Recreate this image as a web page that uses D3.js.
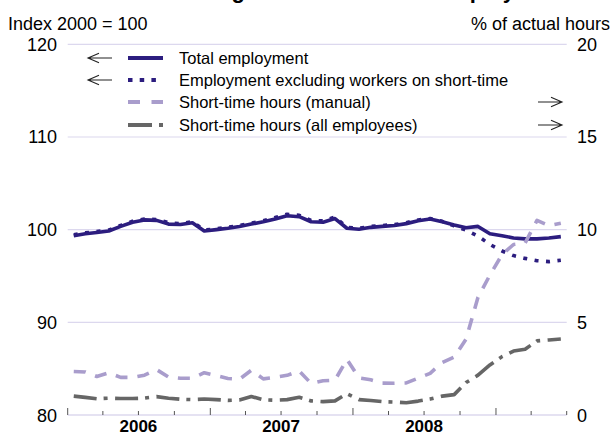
<!DOCTYPE html>
<html>
<head>
<meta charset="utf-8">
<script src="https://cdn.jsdelivr.net/npm/d3@7"></script>
<style>
  html, body { margin: 0; padding: 0; background: #fff; }
  svg { display: block; font-family: "Liberation Sans", Arial, Helvetica, sans-serif; }
</style>
</head>
<body>
<svg id="chart" width="612" height="435"></svg>
<script>
// Monthly observations, January 2006 – June 2009
const months = d3.timeMonth.range(new Date(2006, 0, 1), new Date(2009, 6, 1));

// Left axis (index 2000 = 100)
const totalEmployment = [99.35, 99.55, 99.7, 99.85, 100.35, 100.8, 101.05, 101.0, 100.6, 100.55,
  100.75, 99.85, 100.0, 100.15, 100.35, 100.6, 100.85, 101.15, 101.5, 101.4,
  100.85, 100.8, 101.2, 100.15, 100.05, 100.25, 100.35, 100.45, 100.65, 100.95,
  101.15, 100.85, 100.5, 100.2, 100.35, 99.55, 99.35, 99.1, 99.0, 99.0, 99.1, 99.25];
const employmentExShortTime = [99.45, 99.65, 99.8, 99.95, 100.45, 100.9, 101.15, 101.1, 100.75, 100.65,
  100.85, 99.95, 100.1, 100.25, 100.45, 100.7, 100.95, 101.3, 101.65, 101.55,
  101.0, 100.95, 101.35, 100.25, 100.15, 100.35, 100.45, 100.55, 100.75, 101.05,
  101.2, 100.9, 100.4, 99.95, 99.3, 98.4, 97.7, 97.2, 96.9, 96.65, 96.55, 96.7];

// Right axis (% of actual hours)
const shortTimeManual = [2.35, 2.32, 2.08, 2.28, 2.03, 2.03, 2.15, 2.45, 2.05, 1.98,
  1.98, 2.28, 2.12, 1.97, 1.93, 2.42, 1.95, 2.03, 2.14, 2.38,
  1.7, 1.85, 1.88, 3.0, 2.0, 1.9, 1.72, 1.71, 1.73, 1.99,
  2.25, 2.83, 3.12, 4.1, 6.35, 7.55, 8.65, 9.2, 9.28, 10.5, 10.22, 10.35];
const shortTimeAll = [1.02, 0.95, 0.88, 0.91, 0.89, 0.89, 0.91, 0.99, 0.9, 0.85,
  0.83, 0.86, 0.83, 0.79, 0.81, 1.0, 0.82, 0.8, 0.83, 0.96,
  0.76, 0.72, 0.76, 1.15, 0.83, 0.78, 0.72, 0.7, 0.66, 0.75,
  0.86, 1.02, 1.1, 1.75, 2.15, 2.7, 3.15, 3.45, 3.55, 4.0, 4.05, 4.1];

const leftTicks = [80, 90, 100, 110, 120];
const rightTicks = [0, 5, 10, 15, 20];
const yearLabels = ["2006", "2007", "2008"];

const legendItems = [
  { label: "Total employment", side: "left" },
  { label: "Employment excluding workers on short-time", side: "left" },
  { label: "Short-time hours (manual)", side: "right" },
  { label: "Short-time hours (all employees)", side: "right" }
];

const title = "Short-time working and total German employment";
const leftUnit = "Index 2000 = 100";
const rightUnit = "% of actual hours";

// ---- layout & styles ----
const plot = { left: 67.7, right: 566.7, top: 44.3, bottom: 415 };
const navy = "#2c1d7f", lilac = "#a99dcc", grey = "#666666", grid = "#dcd8ee";
const styles = [
  { stroke: navy, dash: null, width: 3.6 },
  { stroke: navy, dash: "4,7.5", width: 3.6 },
  { stroke: lilac, dash: "12,10", width: 3.6 },
  { stroke: grey, dash: "23,7,4,7.5", width: 3.6 }
];

const svg = d3.select("#chart");

const x = d3.scaleTime()
  .domain([new Date(2006, 0, 1), new Date(2009, 6, 1)])
  .range([plot.left, plot.right]);
const yL = d3.scaleLinear().domain([80, 120]).range([plot.bottom, plot.top]);
const yR = d3.scaleLinear().domain([0, 20]).range([plot.bottom, plot.top]);

// mid-month position for each observation
const mid = d => new Date((+d + +d3.timeMonth.offset(d, 1)) / 2);

// title (extends above the visible area)
svg.append("text")
  .attr("x", 306).attr("y", -2)
  .attr("text-anchor", "middle")
  .attr("font-size", 22).attr("font-weight", "bold")
  .text(title);

svg.append("text").attr("x", 8).attr("y", 30)
  .attr("font-size", 18).text(leftUnit);
svg.append("text").attr("x", 610).attr("y", 30)
  .attr("text-anchor", "end").attr("font-size", 18).text(rightUnit);

// gridlines
svg.append("g").selectAll("line")
  .data(leftTicks.filter(t => t > 80))
  .join("line")
  .attr("x1", plot.left).attr("x2", plot.right)
  .attr("y1", d => yL(d)).attr("y2", d => yL(d))
  .attr("stroke", grid).attr("stroke-width", 1.2);

// left axis labels
svg.append("g").selectAll("text")
  .data(leftTicks).join("text")
  .attr("x", 57).attr("y", d => yL(d) + 6.5)
  .attr("text-anchor", "end").attr("font-size", 18)
  .text(d => d);

// right axis labels
svg.append("g").selectAll("text")
  .data(rightTicks).join("text")
  .attr("x", 577).attr("y", d => yR(d) + 6.5)
  .attr("font-size", 18)
  .text(d => d);

// bottom axis: quarterly ticks, longer at year boundaries
const xAxis = svg.append("g");
xAxis.append("line")
  .attr("x1", plot.left).attr("x2", plot.right)
  .attr("y1", plot.bottom).attr("y2", plot.bottom)
  .attr("stroke", grid).attr("stroke-width", 1.4);
const quarters = d3.timeMonth.every(3).range(new Date(2006, 0, 1), new Date(2009, 7, 1));
xAxis.selectAll("line.tick")
  .data(quarters).join("line")
  .attr("class", "tick")
  .attr("x1", d => x(d)).attr("x2", d => x(d))
  .attr("y1", plot.bottom)
  .attr("y2", d => plot.bottom - (d.getMonth() === 0 ? 7 : 4))
  .attr("stroke", "#555").attr("stroke-width", 1);
xAxis.selectAll("text")
  .data(yearLabels).join("text")
  .attr("x", d => x(new Date(+d, 6, 1)))
  .attr("y", 432)
  .attr("text-anchor", "middle")
  .attr("font-size", 17).attr("font-weight", "bold")
  .text(d => d);

// series
const series = [
  { values: totalEmployment, y: yL },
  { values: employmentExShortTime, y: yL },
  { values: shortTimeManual, y: yR },
  { values: shortTimeAll, y: yR }
];

series.forEach((s, i) => {
  const line = d3.line()
    .x((v, j) => x(mid(months[j])))
    .y(v => s.y(v));
  svg.append("path")
    .datum(s.values)
    .attr("d", line)
    .attr("fill", "none")
    .attr("stroke", styles[i].stroke)
    .attr("stroke-width", styles[i].width)
    .attr("stroke-dasharray", styles[i].dash)
    .attr("stroke-linejoin", "round");
});

// legend
const legendRows = [58, 80, 102, 125];
const legendDash = [null, "4.5,7.2", "12,11.5", "24,7,4,10"];
const lg = svg.append("g");
legendItems.forEach((it, i) => {
  const yy = legendRows[i];
  lg.append("line")
    .attr("x1", 128).attr("x2", 163).attr("y1", yy).attr("y2", yy)
    .attr("stroke", styles[i].stroke).attr("stroke-width", 4)
    .attr("stroke-dasharray", legendDash[i]);
  lg.append("text")
    .attr("x", 179).attr("y", yy + 6)
    .attr("font-size", 16.5)
    .text(it.label);
  // arrow pointing to the axis the series is read against
  const ax = it.side === "left" ? 88 : 562;
  const tail = it.side === "left" ? 112 : 538;
  const dir = it.side === "left" ? 1 : -1;
  lg.append("path")
    .attr("d", `M${tail},${yy}H${ax}M${ax + dir * 11},${yy - 4.8}L${ax},${yy}L${ax + dir * 11},${yy + 4.8}`)
    .attr("fill", "none").attr("stroke", "#222").attr("stroke-width", 1.1);
});
</script>
</body>
</html>
